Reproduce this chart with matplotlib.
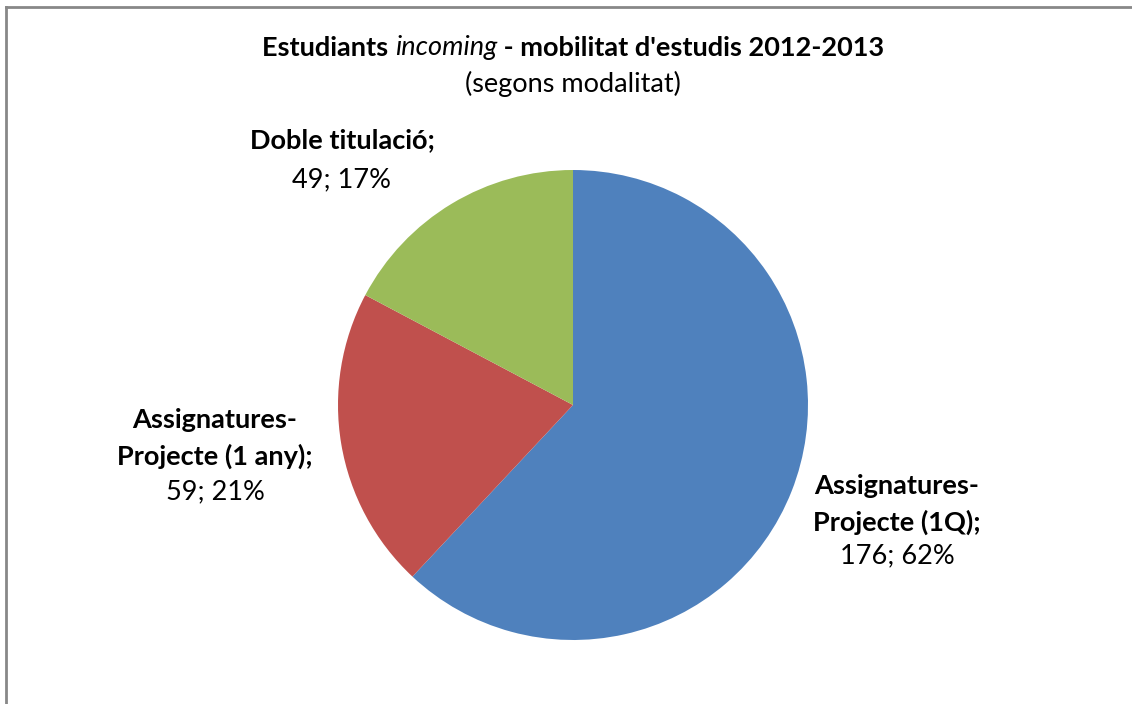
import matplotlib.pyplot as plt
from matplotlib.lines import Line2D

# data
categories = ["Assignatures-\nProjecte (1Q);", "Assignatures-\nProjecte (1 any);", "Doble titulació;"]
values = [176, 59, 49]
pcts = ["62%", "21%", "17%"]
colors = ["#4F81BD", "#C0504D", "#9BBB59"]

plt.rcParams['font.family'] = ['Lato', 'DejaVu Sans']
FS = 19.5

W, H = 1132, 704
fig = plt.figure(figsize=(W / 100, H / 100), dpi=100)

# pie centre (573, 405) px, radius 235 px
cx, cy, r = 573, 405, 235
ax = fig.add_axes([(cx - r) / W, (H - cy - r) / H, 2 * r / W, 2 * r / H])
ax.pie(values, colors=colors, startangle=90, counterclock=False, radius=1,
       wedgeprops=dict(linewidth=0))
ax.set_xlim(-1, 1)
ax.set_ylim(-1, 1)
ax.set_aspect('auto')
ax.axis('off')

# border (left and top visible)
fig.add_artist(Line2D([6 / W, 6 / W], [0, 1 - 7 / H], transform=fig.transFigure, color='#888888', lw=2))
fig.add_artist(Line2D([6 / W, 1], [1 - 7 / H, 1 - 7 / H], transform=fig.transFigure, color='#888888', lw=2))

def fx(x):
    return x / W

def fy(y):
    return 1 - y / H

# title: bold / italic / bold pieces, centred as a whole at x=573
t1 = fig.text(fx(258), fy(48), "Estudiants ", fontsize=FS, fontweight='bold', ha='left', va='center')
fig.canvas.draw()
rend = fig.canvas.get_renderer()
t2 = fig.text(t1.get_window_extent(rend).x1 / W, fy(48), "incoming", fontsize=FS, fontstyle='italic', ha='left', va='center')
t3 = fig.text(t2.get_window_extent(rend).x1 / W, fy(48), " - mobilitat d'estudis 2012-2013", fontsize=FS, fontweight='bold', ha='left', va='center')
x0 = t1.get_window_extent(rend).x0
total = t3.get_window_extent(rend).x1 - x0
shift = (573 - total / 2) - x0
for t in (t1, t2, t3):
    px, py = t.get_position()
    t.set_position((px + shift / W, py))
fig.text(fx(573), fy(84), "(segons modalitat)", fontsize=FS, ha='center', va='center')

# data labels
label_pos = [(897, [486, 522], 556), (215, [420, 456], 492), (342, [140], 180)]
for cat, v, p, (lx, ys, vy) in zip(categories, values, pcts, label_pos):
    for line, ly in zip(cat.split("\n"), ys):
        fig.text(fx(lx), fy(ly), line, fontsize=FS, fontweight='bold', ha='center', va='center')
    fig.text(fx(lx), fy(vy), f"{v}; {p}", fontsize=FS, ha='center', va='center')

fig.savefig("out.png", dpi=100, facecolor='white')
